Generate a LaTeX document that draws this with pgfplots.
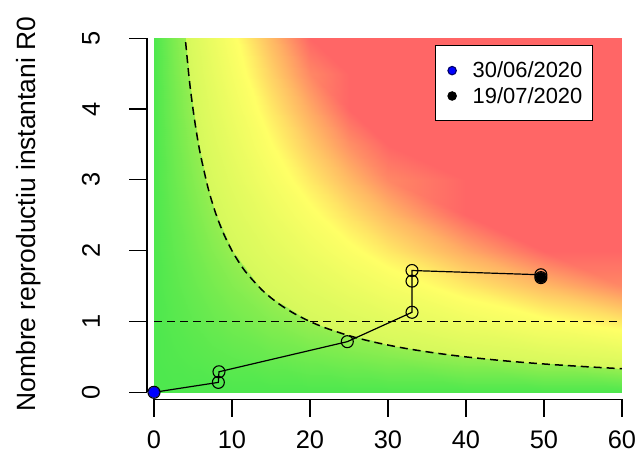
\documentclass[border=0pt]{standalone}
\usepackage{pgfplots}
\pgfplotsset{compat=1.18}
\usepackage{fontspec}
\setmainfont{Liberation Sans}
\begin{document}
\begin{tikzpicture}
\useasboundingbox (0,0) rectangle (640bp,465bp);
\begin{axis}[
  at={(154bp,72.7bp)}, anchor=south west,
  scale only axis, width=468bp, height=354bp,
  xmin=0, xmax=60, ymin=0, ymax=5,
  enlargelimits=false,
  axis line style={draw=none},
  major tick length=0pt,
  xtick={0,10,20,30,40,50,60},
  ytick={0,1,2,3,4,5},
  /pgf/number format/assume math mode=true,
  tick label style={font=\fontsize{25.5}{30}\selectfont},
  x tick label style={anchor=north, inner sep=0pt, yshift=-38.7bp},
  y tick label style={xshift=-54bp, rotate=90, anchor=south, inner sep=0pt},
  colormap={risk}{rgb255(0)=(78,232,78) rgb255(200)=(150,238,80) rgb255(203)=(214,249,92) rgb255(530)=(255,255,102) rgb255(770)=(255,180,100) rgb255(1000)=(255,102,102)},
  point meta min=0, point meta max=100,
  legend style={at={(axis cs:36.03,4.9)}, anchor=north west, draw=black, line width=1.1bp, fill=white,
    font=\fontsize{22}{26}\selectfont, inner xsep=10bp, inner ysep=16bp, row sep=8bp,
    nodes={inner sep=0pt}},
  legend cell align=left,
  legend image code/.code={\path (-6bp,0) (6bp,0); \draw[#1, mark size=4.2bp] plot coordinates {(0bp,0bp)};},
  /tikz/every odd column/.append style={column sep=14bp},
]
\addplot[surf, shader=interp, mesh/cols=12, point meta=explicit, forget plot] table[x=x, y=y, meta=c] {
x y c
0 0 0
2.5 0 0
5 0 0
7.5 0 0
10 0 0
15 0 0
20 0 0
25 0 0
30 0 0
40 0 0
50 0 0
60 0 0
0 0.5 0
2.5 0.5 1.25
5 0.5 2.5
7.5 0.5 3.75
10 0.5 5
15 0.5 7.5
20 0.5 10
25 0.5 12.5
30 0.5 15
40 0.5 20
50 0.5 25
60 0.5 30
0 1 0
2.5 1 2.5
5 1 5
7.5 1 7.5
10 1 10
15 1 15
20 1 20
25 1 25
30 1 30
40 1 40
50 1 50
60 1 60
0 1.5 0
2.5 1.5 3.75
5 1.5 7.5
7.5 1.5 11.25
10 1.5 15
15 1.5 22.5
20 1.5 30
25 1.5 37.5
30 1.5 45
40 1.5 60
50 1.5 75
60 1.5 90
0 2 0
2.5 2 5
5 2 10
7.5 2 15
10 2 20
15 2 30
20 2 40
25 2 50
30 2 60
40 2 80
50 2 100
60 2 120
0 2.5 0
2.5 2.5 6.25
5 2.5 12.5
7.5 2.5 18.75
10 2.5 25
15 2.5 37.5
20 2.5 50
25 2.5 62.5
30 2.5 75
40 2.5 100
50 2.5 125
60 2.5 150
0 3 0
2.5 3 7.5
5 3 15
7.5 3 22.5
10 3 30
15 3 45
20 3 60
25 3 75
30 3 90
40 3 120
50 3 150
60 3 180
0 3.5 0
2.5 3.5 8.75
5 3.5 17.5
7.5 3.5 26.25
10 3.5 35
15 3.5 52.5
20 3.5 70
25 3.5 87.5
30 3.5 105
40 3.5 140
50 3.5 175
60 3.5 210
0 4 0
2.5 4 10
5 4 20
7.5 4 30
10 4 40
15 4 60
20 4 80
25 4 100
30 4 120
40 4 160
50 4 200
60 4 240
0 4.5 0
2.5 4.5 11.25
5 4.5 22.5
7.5 4.5 33.75
10 4.5 45
15 4.5 67.5
20 4.5 90
25 4.5 112.5
30 4.5 135
40 4.5 180
50 4.5 225
60 4.5 270
0 5 0
2.5 5 12.5
5 5 25
7.5 5 37.5
10 5 50
15 5 75
20 5 100
25 5 125
30 5 150
40 5 200
50 5 250
60 5 300
};
\addplot[black, line width=1.5bp, dash pattern=on 8bp off 5bp, smooth, forget plot] coordinates {
(3.9,5.128) (4.5,4.444) (5,4) (5.5,3.636) (6,3.333) (7,2.857) (8,2.5) (9,2.222) (10,2) (11,1.818) (12,1.667) (14,1.429) (16,1.25) (18,1.111) (20,1) (22,0.909) (25,0.8) (28,0.714) (32,0.625) (36,0.556) (40,0.5) (45,0.444) (50,0.4) (55,0.364) (60,0.333)};
\addplot[black, line width=1.5bp, dash pattern=on 8bp off 5bp, forget plot] coordinates {(0,1) (60,1)};
\addplot[black, line width=1.2bp, mark=o, mark size=6bp, mark options={line width=1.1bp}, forget plot] coordinates {
(0,0) (8.25,0.14) (8.33,0.29) (24.78,0.715) (33.08,1.13) (33.08,1.57) (33.08,1.72) (49.6,1.66) (49.6,1.62)};
\addplot[only marks, mark=*, mark size=5.5bp, draw=black!60!blue, fill=blue, clip=false] coordinates {(0,0)};
\addlegendentry{30/06/2020}
\addplot[only marks, mark=*, mark size=5.5bp, draw=black, fill=black] coordinates {(49.6,1.62)};
\addlegendentry{19/07/2020}
\end{axis}
\draw[line width=1.2bp] (147bp,72.7bp) -- (147bp,426.7bp);
\foreach \k in {0,1,2,3,4,5} {\draw[line width=1.2bp] (129bp,72.7bp+70.8bp*\k) -- (147bp,72.7bp+70.8bp*\k);}
\draw[line width=1.2bp] (154bp,65.5bp) -- (622bp,65.5bp);
\foreach \k in {0,1,2,3,4,5,6} {\draw[line width=1.2bp] (154bp+78bp*\k,65.5bp) -- (154bp+78bp*\k,48bp);}
\node[rotate=90, anchor=base, inner sep=0pt, font=\fontsize{26.5}{30}\selectfont] at (35bp,251bp) {Nombre reproductiu instantani R0};
\end{tikzpicture}
\end{document}
